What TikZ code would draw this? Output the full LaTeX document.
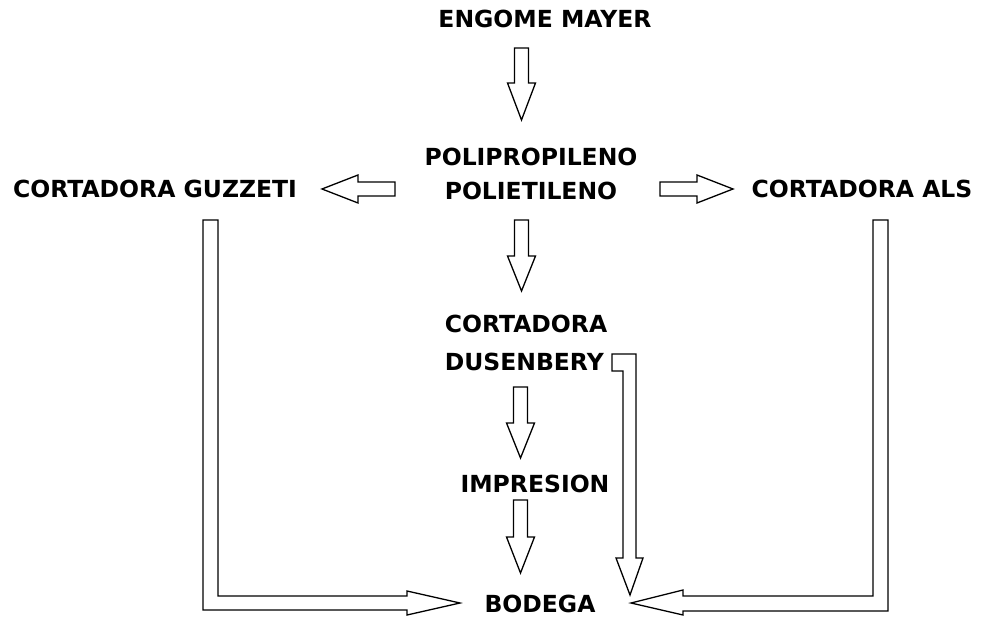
\documentclass[tikz,border=0pt]{standalone}
\usepackage{fontspec}
\setmainfont{DejaVu Sans}
\begin{document}
\begin{tikzpicture}[x=1pt,y=-1pt,
  lbl/.style={font=\bfseries\fontsize{23.5}{34}\selectfont, inner sep=0pt, anchor=base},
  lbltwo/.style={font=\bfseries\fontsize{23.5}{34}\selectfont, inner sep=0pt, anchor=north, align=center},
  blk/.style={draw=black, line width=1.3pt, line join=miter, fill=white}]
\useasboundingbox (0,0) rectangle (982,617);
% texts
\node[lbl] (engome) at (545,28) {ENGOME MAYER};
\node[lbltwo] (poli) at (531,148) {POLIPROPILENO\\POLIETILENO};
\node[lbl] (guzzeti) at (155,198) {CORTADORA GUZZETI};
\node[lbl] (als) at (862,198) {CORTADORA ALS};
\node[lbltwo, align=left, font=\bfseries\fontsize{23.5}{38}\selectfont] (dusen) at (526,315) {CORTADORA\\DUSENBERY};
\node[lbl] (impresion) at (535,492) {IMPRESION};
\node[lbl] (bodega) at (540,612) {BODEGA};
% straight block arrows (down)
\newcommand\vblockarrow[4]{% x, top, base, tip
  \draw[blk] (#1-7,#2) -- (#1+7,#2) -- (#1+7,#3) -- (#1+14,#3) -- (#1,#4)
    -- (#1-14,#3) -- (#1-7,#3) -- cycle;}
\vblockarrow{521.5}{48}{83}{120}
\vblockarrow{521.5}{220}{256}{291}
\vblockarrow{520.5}{387}{423}{458}
\vblockarrow{520.5}{500}{537}{573}
% horizontal block arrows
\draw[blk] (395,182) -- (358,182) -- (358,175) -- (322,189) -- (358,203) -- (358,196) -- (395,196) -- cycle;
\draw[blk] (660,182) -- (697,182) -- (697,175) -- (733,189) -- (697,203) -- (697,196) -- (660,196) -- cycle;
% elbow arrow from Guzzeti to Bodega
\draw[blk] (203,220) -- (218,220) -- (218,596) -- (407,596) -- (407,591) -- (460,603)
  -- (407,615) -- (407,610) -- (203,610) -- cycle;
% elbow arrow from ALS to Bodega
\draw[blk] (888,220) -- (873,220) -- (873,596) -- (683,596) -- (683,590) -- (631,603)
  -- (683,615) -- (683,611) -- (888,611) -- cycle;
% elbow arrow from Dusenbery to Bodega
\draw[blk] (612,354) -- (636,354) -- (636,558) -- (643,558) -- (630,595) -- (616,558)
  -- (623,558) -- (623,371) -- (612,371) -- cycle;
\end{tikzpicture}
\end{document}
